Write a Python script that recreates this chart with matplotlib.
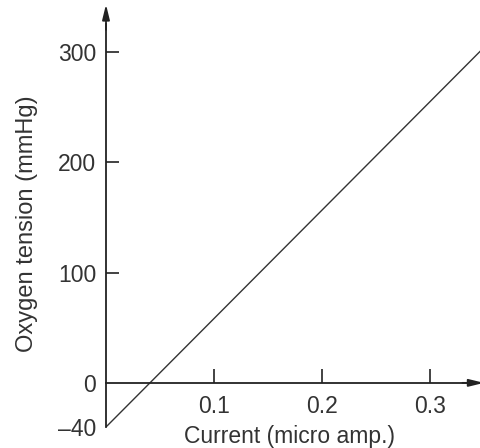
import matplotlib
matplotlib.use("Agg")
import matplotlib.pyplot as plt

# calibration line: current vs oxygen tension
current = [0.0, 0.35]
tension = [-40, 304]

x_ticks = [0.1, 0.2, 0.3]
x_tick_labels = ['0.1', '0.2', '0.3']
y_ticks = [-40, 0, 100, 200, 300]
y_tick_labels = ['\u201340', '0', '100', '200', '300']

plt.rcParams['font.family'] = ['Liberation Sans', 'DejaVu Sans']
ink = '#222222'
fs = 16.5

fig = plt.figure(figsize=(4.8, 4.48), dpi=100)
ax = fig.add_axes([106 / 480, 21 / 448, 374 / 480, 427 / 448])
ax.set_xlim(0, 374 / 1080)
ax.set_ylim(-40, 347)

ax.plot(current, tension, color='#333333', lw=1.0)

# axes drawn as arrows through the origin
for side in ['top', 'right']:
    ax.spines[side].set_visible(False)
ax.spines['bottom'].set_position(('data', 0))
ax.spines['left'].set_position(('data', 0))
ax.spines['bottom'].set_bounds(0, 0.335)
ax.spines['left'].set_bounds(-40, 325)
for side in ['bottom', 'left']:
    ax.spines[side].set_color(ink)
    ax.spines[side].set_linewidth(1.3)

arrow = dict(arrowstyle='-|>,head_length=0.9,head_width=0.22', color=ink, lw=1.3,
             shrinkA=0, shrinkB=0)
ax.annotate('', xy=(0, 343), xytext=(0, 320), arrowprops=arrow, annotation_clip=False)
ax.annotate('', xy=(378 / 1080, 0), xytext=(0.33, 0), arrowprops=arrow, annotation_clip=False)

ax.set_xticks(x_ticks)
ax.set_xticklabels(x_tick_labels)
ax.set_yticks(y_ticks)
ax.set_yticklabels(y_tick_labels)
ax.tick_params(axis='x', direction='in', length=10, width=1.2, color=ink,
               labelsize=fs, labelcolor='#333333', pad=9)
ax.tick_params(axis='y', direction='in', length=9.5, width=1.2, color=ink,
               labelsize=fs, labelcolor='#333333', pad=7)
# no tick mark at the origin or at -40
for t in ax.yaxis.get_major_ticks()[:2]:
    t.tick1line.set_visible(False)

fig.text(290 / 480, 0 / 448, 'Current (micro amp.)', ha='center', va='bottom',
         fontsize=fs, color='#333333')
fig.text(27 / 480, 224 / 448, 'Oxygen tension (mmHg)', ha='center', va='center',
         rotation=90, fontsize=fs + 0.5, color='#333333')

fig.savefig('out.png', dpi=100)
